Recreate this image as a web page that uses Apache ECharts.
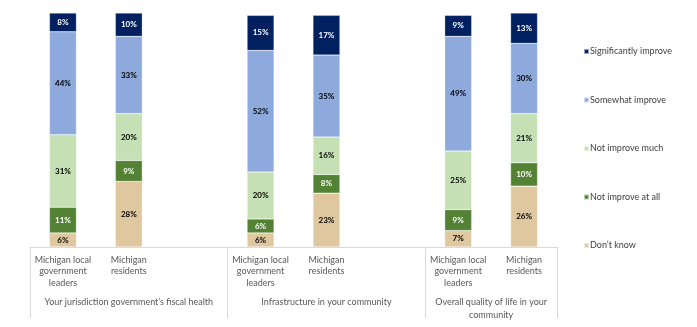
<!DOCTYPE html>
<html>
<head>
<meta charset="utf-8">
<script src="https://cdn.jsdelivr.net/npm/echarts@6/dist/echarts.min.js"></script>
<style>html,body{margin:0;padding:0;background:#fff}#c{width:697px;height:327px}</style>
</head>
<body>
<div id="c"></div>
<script>
const categories = ['Michigan local\ngovernment\nleaders', 'Michigan\nresidents', '', 'Michigan local\ngovernment\nleaders', 'Michigan\nresidents', '', 'Michigan local\ngovernment\nleaders', 'Michigan\nresidents'];
const groupLabels = ['Your jurisdiction government\u2019s fiscal health', 'Infrastructure in your community', 'Overall quality of life in your\ncommunity'];
const groupCenters = [1.5, 4.5, 7];
const groupBounds = [0, 3, 6, 8];
const dontKnow = [6, 28, '-', 6, 23, '-', 7, 26];
const notAtAll = [11, 9, '-', 6, 8, '-', 9, 10];
const notMuch = [31, 20, '-', 20, 16, '-', 25, 21];
const somewhat = [44, 33, '-', 52, 35, '-', 49, 30];
const significantly = [8, 10, '-', 15, 17, '-', 9, 13];
const seriesNames = ['Don\u2019t know', 'Not improve at all', 'Not improve much', 'Somewhat improve', 'Significantly improve'];
const seriesData = [dontKnow, notAtAll, notMuch, somewhat, significantly];
const colors = ['#dfc79f', '#548235', '#c5e0b4', '#8eaadc', '#002060'];
const labelColors = ['#000', '#fff', '#000', '#000', '#fff'];
const FONT = 'Lato';

const chart = echarts.init(document.getElementById('c'), null, {renderer: 'canvas'});
chart.setOption({
  animation: false,
  grid: {left: 30, right: 140, top: 13, bottom: 80},
  legend: {
    orient: 'vertical', left: 578, top: 42,
    data: seriesNames.slice().reverse(),
    itemWidth: 5, itemHeight: 5, itemGap: 39.5,
    icon: 'rect',
    textStyle: {fontFamily: FONT, fontSize: 9, color: '#404040', padding: [0, 0, 0, -4]}
  },
  yAxis: {type: 'value', min: 0, max: 100, show: false},
  xAxis: [
    {
      type: 'category', data: categories, position: 'bottom',
      axisLine: {lineStyle: {color: '#d9d9d9', width: 1}},
      axisTick: {show: false},
      axisLabel: {interval: 0, margin: 7, fontFamily: FONT, fontSize: 9, lineHeight: 11.5, color: '#595959', align: 'center'}
    },
    {
      type: 'value', min: 0, max: 8, position: 'bottom', gridIndex: 0,
      axisLine: {show: false},
      splitLine: {show: false},
      axisTick: {show: true, length: 71, inside: false, customValues: groupBounds, lineStyle: {color: '#d9d9d9'}},
      axisLabel: {
        margin: 49, customValues: groupCenters, fontFamily: FONT, fontSize: 9, lineHeight: 13, color: '#595959', align: 'center',
        formatter: function (v) { const i = groupCenters.indexOf(v); return i >= 0 ? groupLabels[i] : ''; }
      }
    }
  ],
  series: seriesNames.map((name, i) => ({
    name: name, type: 'bar', stack: 'total', xAxisIndex: 0,
    data: seriesData[i], barWidth: 27,
    itemStyle: {color: colors[i], borderColor: 'rgba(255,255,255,0.6)', borderWidth: 0.5},
    label: {show: true, position: 'inside', formatter: '{c}%', fontFamily: FONT, fontSize: 8, fontWeight: 'bold', color: labelColors[i]}
  }))
});
</script>
</body>
</html>
